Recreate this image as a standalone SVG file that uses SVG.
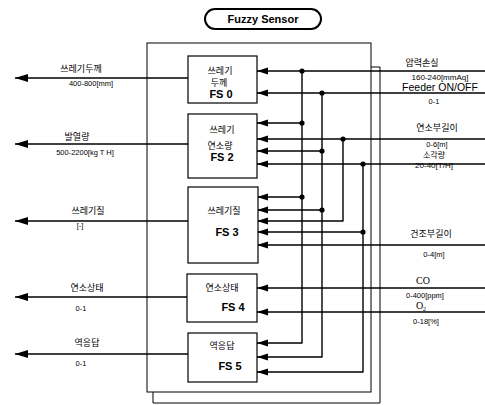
<svg xmlns="http://www.w3.org/2000/svg" width="485" height="405" viewBox="0 0 485 405">
<defs>
<marker id="ah" markerUnits="userSpaceOnUse" markerWidth="14" markerHeight="8" refX="13" refY="4" orient="auto">
<path d="M0,0 L13,4 L0,8 Z" fill="#000"/>
</marker>
<marker id="ai" markerUnits="userSpaceOnUse" markerWidth="12" markerHeight="8" refX="11" refY="4" orient="auto">
<path d="M0,0.5 L11,4 L0,7.5 Z" fill="#000"/>
</marker>
<style>
.box{fill:#fff;stroke:#000;stroke-width:1.2}
.frame{fill:none;stroke:#000;stroke-width:1}
.w{fill:none;stroke:#000;stroke-width:1.4;stroke-linejoin:round}
.out{fill:none;stroke:#000;stroke-width:1.6;marker-end:url(#ah)}
.in{marker-end:url(#ai)}
.k{font-family:"Noto Sans CJK KR",sans-serif;font-size:9px;fill:#000;text-anchor:middle}
.s{font-family:"Liberation Sans",Arial,sans-serif;font-size:7.5px;fill:#000;text-anchor:middle}
.fs{font-family:"Liberation Sans",Arial,sans-serif;font-size:11px;font-weight:bold;fill:#000;text-anchor:middle}
.tm{font-family:"Liberation Serif","Times New Roman",serif;font-size:10px;fill:#000;text-anchor:middle}
</style>
</defs>
<rect width="485" height="405" fill="#fff"/>

<g id="title">
<rect x="205" y="9" width="116" height="20" rx="10" fill="#fff" stroke="#000" stroke-width="2"/>
<text x="263" y="23" class="fs" style="font-size:11px">Fuzzy Sensor</text>
</g>

<g id="frame">
<path class="frame" d="M371,67 H380 V403 H153 V392"/>
<rect class="frame" x="147" y="43" width="224" height="349"/>
</g>

<g id="connectors">
<!-- outputs -->
<path class="out" d="M188,78 H15"/>
<path class="out" d="M188,144 H15"/>
<path class="out" d="M188,221 H15"/>
<path class="out" d="M188,297 H15"/>
<path class="out" d="M188,354 H15"/>
<!-- input 1 : pressure loss -->
<path class="w in" d="M485,71 H257"/>
<path class="w in" d="M302,71 V343 H257"/>
<path class="w in" d="M302,123 H257"/>
<path class="w in" d="M302,197 H257"/>
<!-- input 2 : feeder -->
<path class="w in" d="M485,93 H257"/>
<path class="w in" d="M322,93 V357 H257"/>
<path class="w in" d="M322,151 H257"/>
<path class="w in" d="M322,210 H257"/>
<!-- input 3 -->
<path class="w in" d="M485,139 H257"/>
<path class="w in" d="M343,139 V221 H257"/>
<!-- input 4 -->
<path class="w in" d="M485,164 H257"/>
<path class="w in" d="M363,164 V372 H257"/>
<path class="w in" d="M363,232 H257"/>
<!-- inputs 5-7 -->
<path class="w in" d="M485,245 H257"/>
<path class="w in" d="M485,288 H257"/>
<path class="w in" d="M485,312 H257"/>
<!-- junction dots -->
<g fill="#000">
<circle cx="302" cy="71" r="2.6"/>
<circle cx="302" cy="123" r="2.6"/>
<circle cx="302" cy="197" r="2.6"/>
<circle cx="322" cy="93" r="2.6"/>
<circle cx="322" cy="151" r="2.6"/>
<circle cx="322" cy="210" r="2.6"/>
<circle cx="343" cy="139" r="2.6"/>
<circle cx="363" cy="164" r="2.6"/>
<circle cx="363" cy="232" r="2.6"/>
</g>
</g>

<g id="fs0">
<rect class="box" x="188" y="56" width="69" height="47"/>
<text x="220" y="74" class="k">쓰레기</text>
<text x="219" y="86" class="k">두께</text>
<text x="221" y="98" class="fs">FS 0</text>
</g>
<g id="fs2">
<rect class="box" x="188" y="114" width="69" height="64"/>
<text x="222" y="133" class="k">쓰레기</text>
<text x="220" y="149" class="k">연소량</text>
<text x="222" y="161" class="fs">FS 2</text>
</g>
<g id="fs3">
<rect class="box" x="188" y="187" width="70" height="76"/>
<text x="224" y="214" class="k">쓰레기질</text>
<text x="227" y="236" class="fs">FS  3</text>
</g>
<g id="fs4">
<rect class="box" x="187" y="274" width="70" height="48"/>
<text x="222" y="291" class="k">연소상태</text>
<text x="233" y="311" class="fs">FS  4</text>
</g>
<g id="fs5">
<rect class="box" x="188" y="333" width="69" height="49"/>
<text x="222" y="349" class="k">역응답</text>
<text x="230" y="370" class="fs">FS  5</text>
</g>

<g id="left-labels">
<text x="81" y="72" class="k">쓰레기두께</text>
<text x="91" y="86" class="s">400-800[mm]</text>
<text x="77" y="140" class="k">발열량</text>
<text x="85" y="155" class="s">500-2200[kg T H]</text>
<text x="88" y="214" class="k">쓰레기질</text>
<text x="80" y="228" class="s">[-]</text>
<text x="87" y="291" class="k">연소상태</text>
<text x="81" y="311" class="s">0-1</text>
<text x="87" y="346" class="k">역응답</text>
<text x="81" y="366" class="s">0-1</text>
</g>

<g id="right-labels">
<text x="422" y="66" class="k">압력손실</text>
<text x="440" y="80" class="s" style="font-size:8px">160-240[mmAq]</text>
<text x="440" y="91" class="fs" style="font-size:10.5px;font-weight:normal">Feeder ON/OFF</text>
<text x="434" y="104" class="s">0-1</text>
<text x="437" y="131" class="k">연소부길이</text>
<text x="437" y="147" class="s">0-6[m]</text>
<text x="434" y="158" class="k" style="font-size:8px">소각량</text>
<text x="434" y="168" class="s" style="font-size:8px">20-40[T/H]</text>
<text x="431" y="237" class="k">건조부길이</text>
<text x="434" y="257" class="s">0-4[m]</text>
<text x="423" y="284" class="tm">CO</text>
<text x="425" y="298" class="s">0-400[ppm]</text>
<text x="421" y="309" class="tm">O<tspan font-size="6" dy="2">2</tspan></text>
<text x="426" y="324" class="s">0-18[%]</text>
</g>
</svg>
